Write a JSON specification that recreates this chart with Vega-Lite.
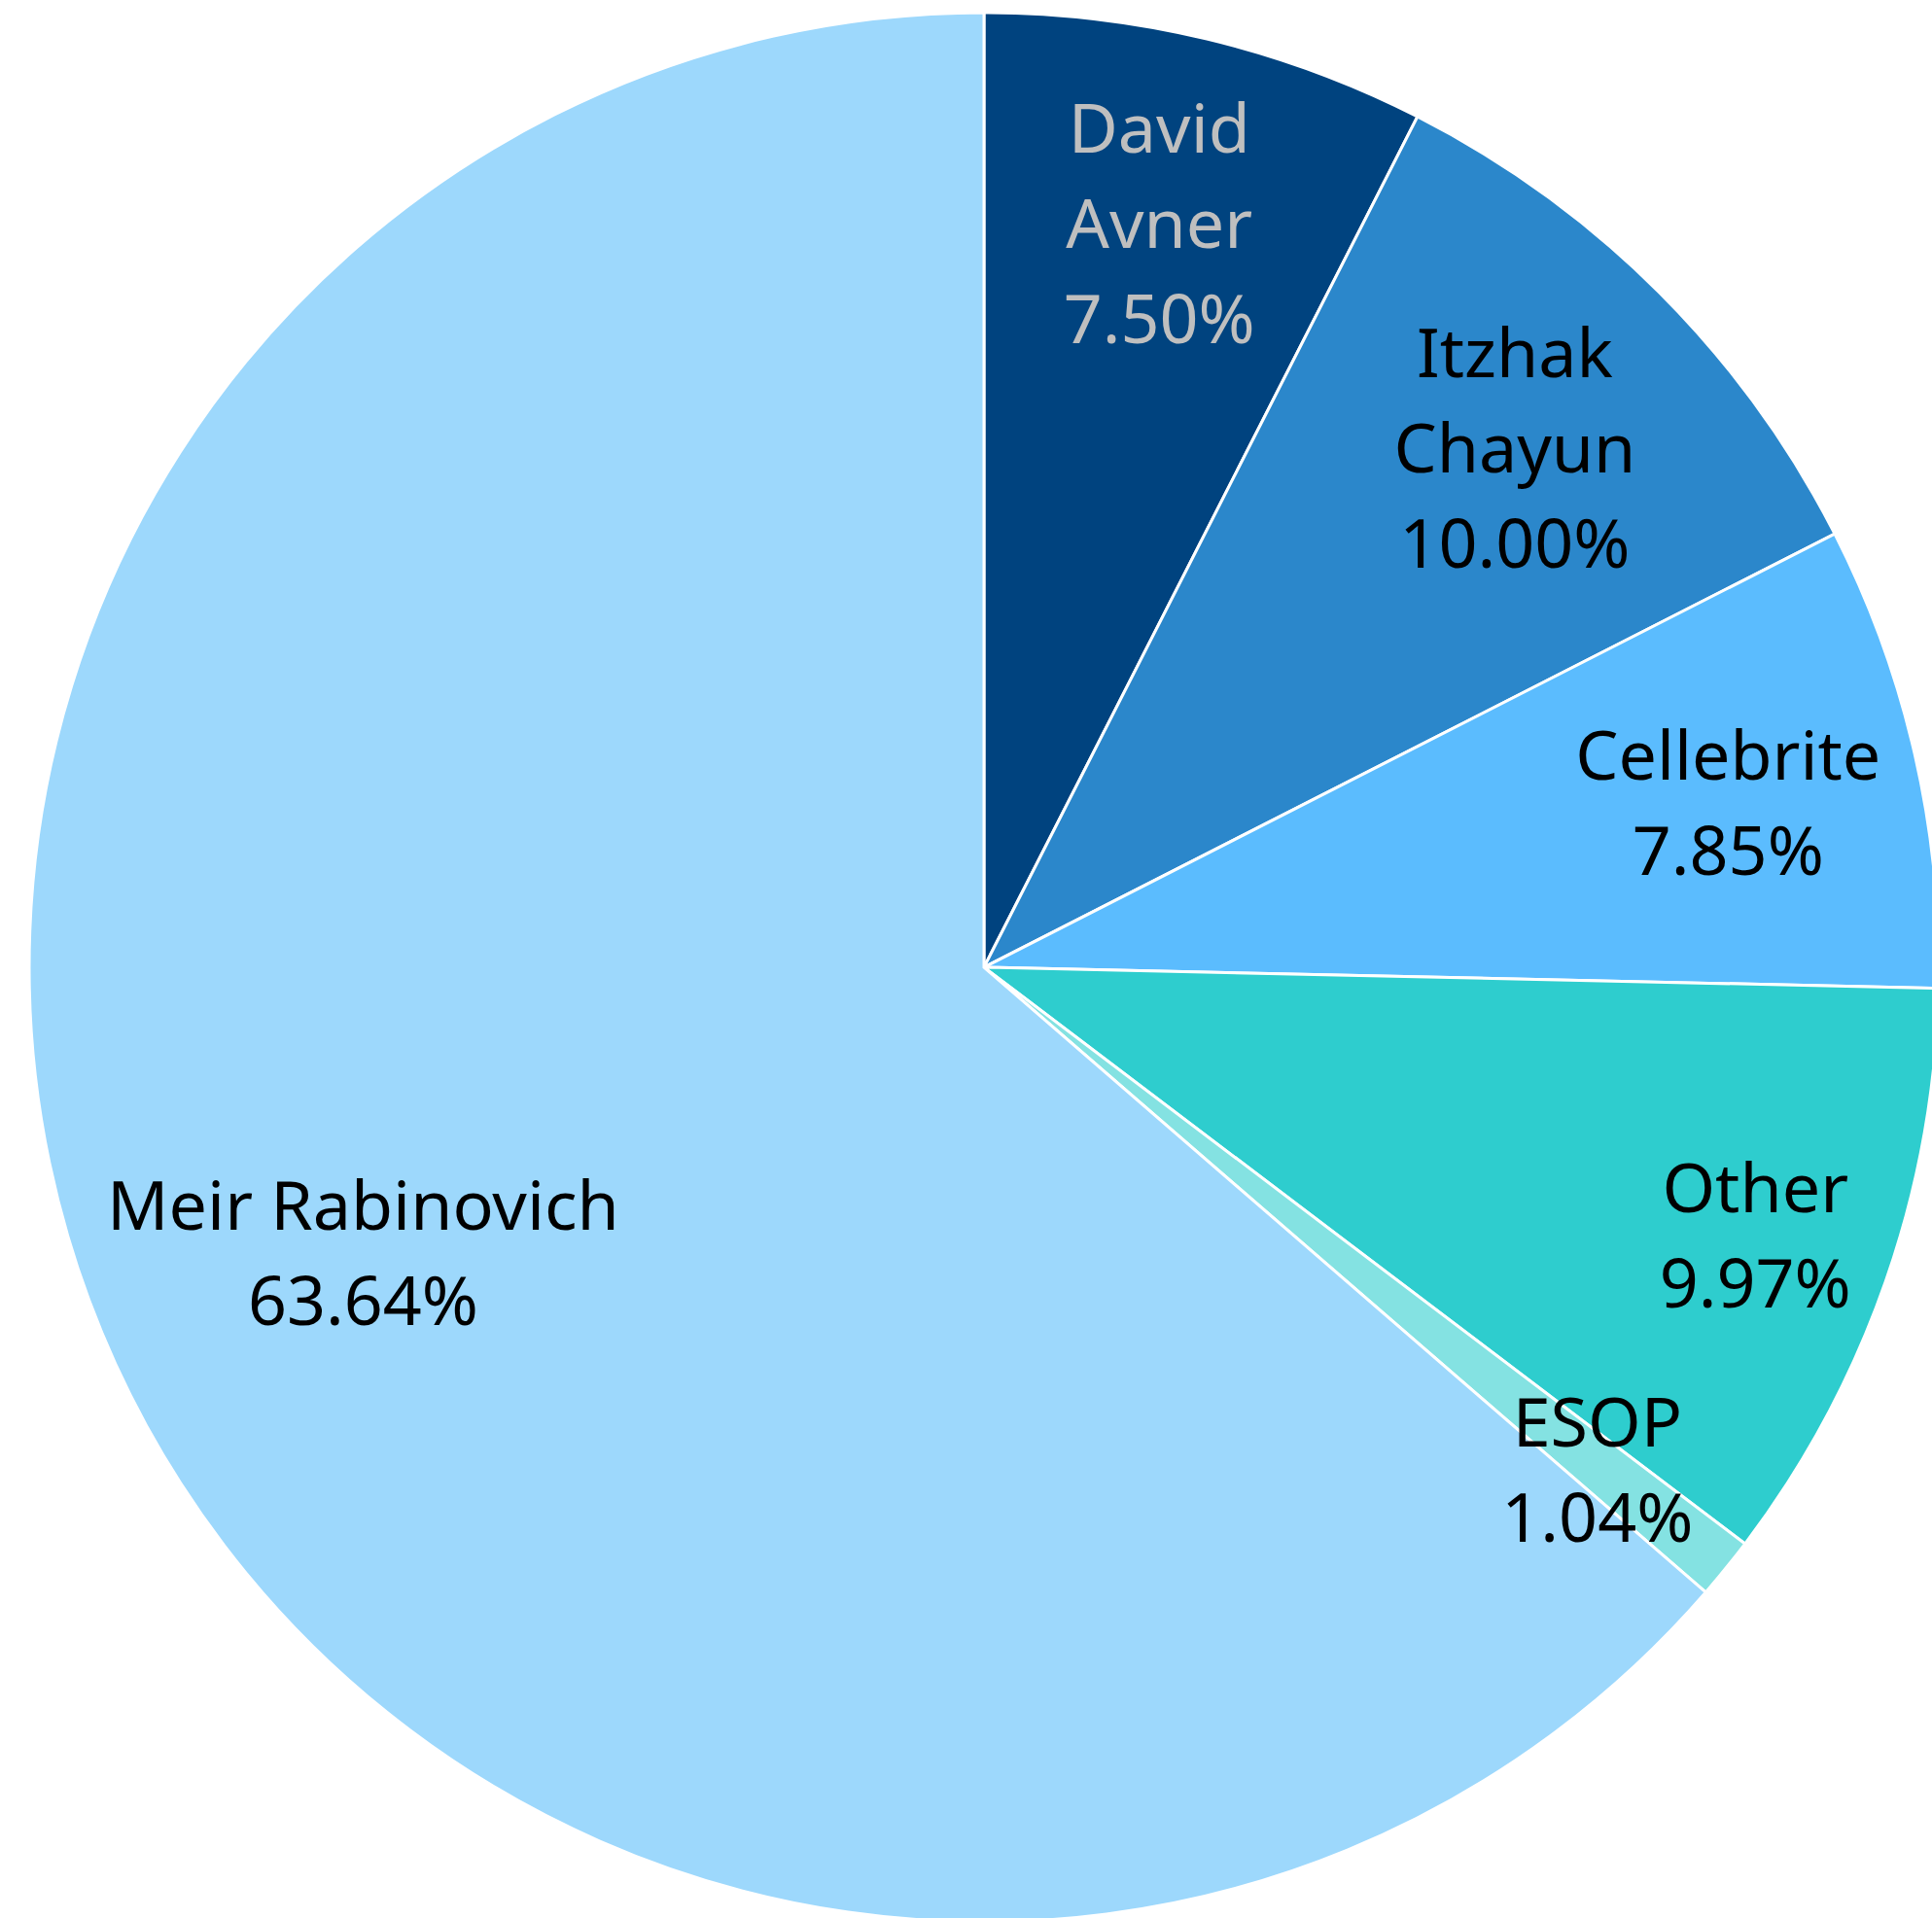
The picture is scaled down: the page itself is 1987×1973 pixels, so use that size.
{
  "$schema": "https://vega.github.io/schema/vega-lite/v6.json",
  "width": 2024,
  "height": 1990,
  "padding": 0,
  "autosize": {"type": "none"},
  "background": "white",
  "config": {"view": {"stroke": null}, "text": {"font": "Noto Sans", "fontSize": 70, "lineHeight": 98, "lineBreak": "\n", "align": "center", "baseline": "middle", "color": "#000000"}},
  "data": {
    "values": [
      {"owner": "David Avner", "share": 7.50, "rank": 1},
      {"owner": "Itzhak Chayun", "share": 10.00, "rank": 2},
      {"owner": "Cellebrite", "share": 7.85, "rank": 3},
      {"owner": "Other", "share": 9.97, "rank": 4},
      {"owner": "ESOP", "share": 1.04, "rank": 5},
      {"owner": "Meir Rabinovich", "share": 63.64, "rank": 6}
    ]
  },
  "transform": [
    {"stack": "share", "groupby": [], "sort": [{"field": "rank", "order": "ascending"}], "as": ["s0", "s1"]},
    {"calculate": "(datum.s0 + datum.s1) / 2", "as": "mid"},
    {"calculate": "(indexof(['David Avner','Itzhak Chayun'], datum.owner) >= 0 ? replace(datum.owner, ' ', '\\n') : datum.owner) + '\\n' + format(datum.share, '.2f') + '%'", "as": "label"}
  ],
  "layer": [
    {
      "mark": {"type": "arc", "outerRadius": 982, "stroke": "white", "strokeWidth": 3},
      "encoding": {
        "theta": {"field": "s0", "type": "quantitative", "scale": {"domain": [0, 100]}},
        "theta2": {"field": "s1"},
        "color": {
          "field": "owner",
          "type": "nominal",
          "scale": {
            "domain": ["David Avner", "Itzhak Chayun", "Cellebrite", "Other", "ESOP", "Meir Rabinovich"],
            "range": ["#00437F", "#2B87CB", "#5BBCFE", "#2ECDCE", "#84E2E2", "#9DD8FC"]
          },
          "legend": null
        }
      }
    },
    {
      "transform": [{"filter": "datum.owner === 'David Avner'"}],
      "mark": {"type": "text", "radius": 772, "dy": -108, "color": "#BFBFBF"},
      "encoding": {
        "theta": {"field": "mid", "type": "quantitative", "scale": {"domain": [0, 100]}},
        "text": {"field": "label"}
      }
    },
    {
      "transform": [{"filter": "datum.owner === 'Itzhak Chayun'"}],
      "mark": {"type": "text", "radius": 772, "dy": -82},
      "encoding": {
        "theta": {"field": "mid", "type": "quantitative", "scale": {"domain": [0, 100]}},
        "text": {"field": "label"}
      }
    },
    {
      "transform": [{"filter": "datum.owner === 'Cellebrite'"}],
      "mark": {"type": "text", "radius": 785, "dy": -39},
      "encoding": {
        "theta": {"field": "mid", "type": "quantitative", "scale": {"domain": [0, 100]}},
        "text": {"field": "label"}
      }
    },
    {
      "transform": [{"filter": "datum.owner === 'Other'"}],
      "mark": {"type": "text", "radius": 840, "dy": -45},
      "encoding": {
        "theta": {"field": "mid", "type": "quantitative", "scale": {"domain": [0, 100]}},
        "text": {"field": "label"}
      }
    },
    {
      "transform": [{"filter": "datum.owner === 'ESOP'"}],
      "mark": {"type": "text", "radius": 812, "dy": -39},
      "encoding": {
        "theta": {"field": "mid", "type": "quantitative", "scale": {"domain": [0, 100]}},
        "text": {"field": "label"}
      }
    },
    {
      "transform": [{"filter": "datum.owner === 'Meir Rabinovich'"}],
      "mark": {"type": "text", "radius": 702, "dy": -43},
      "encoding": {
        "theta": {"field": "mid", "type": "quantitative", "scale": {"domain": [0, 100]}},
        "text": {"field": "label"}
      }
    }
  ]
}
